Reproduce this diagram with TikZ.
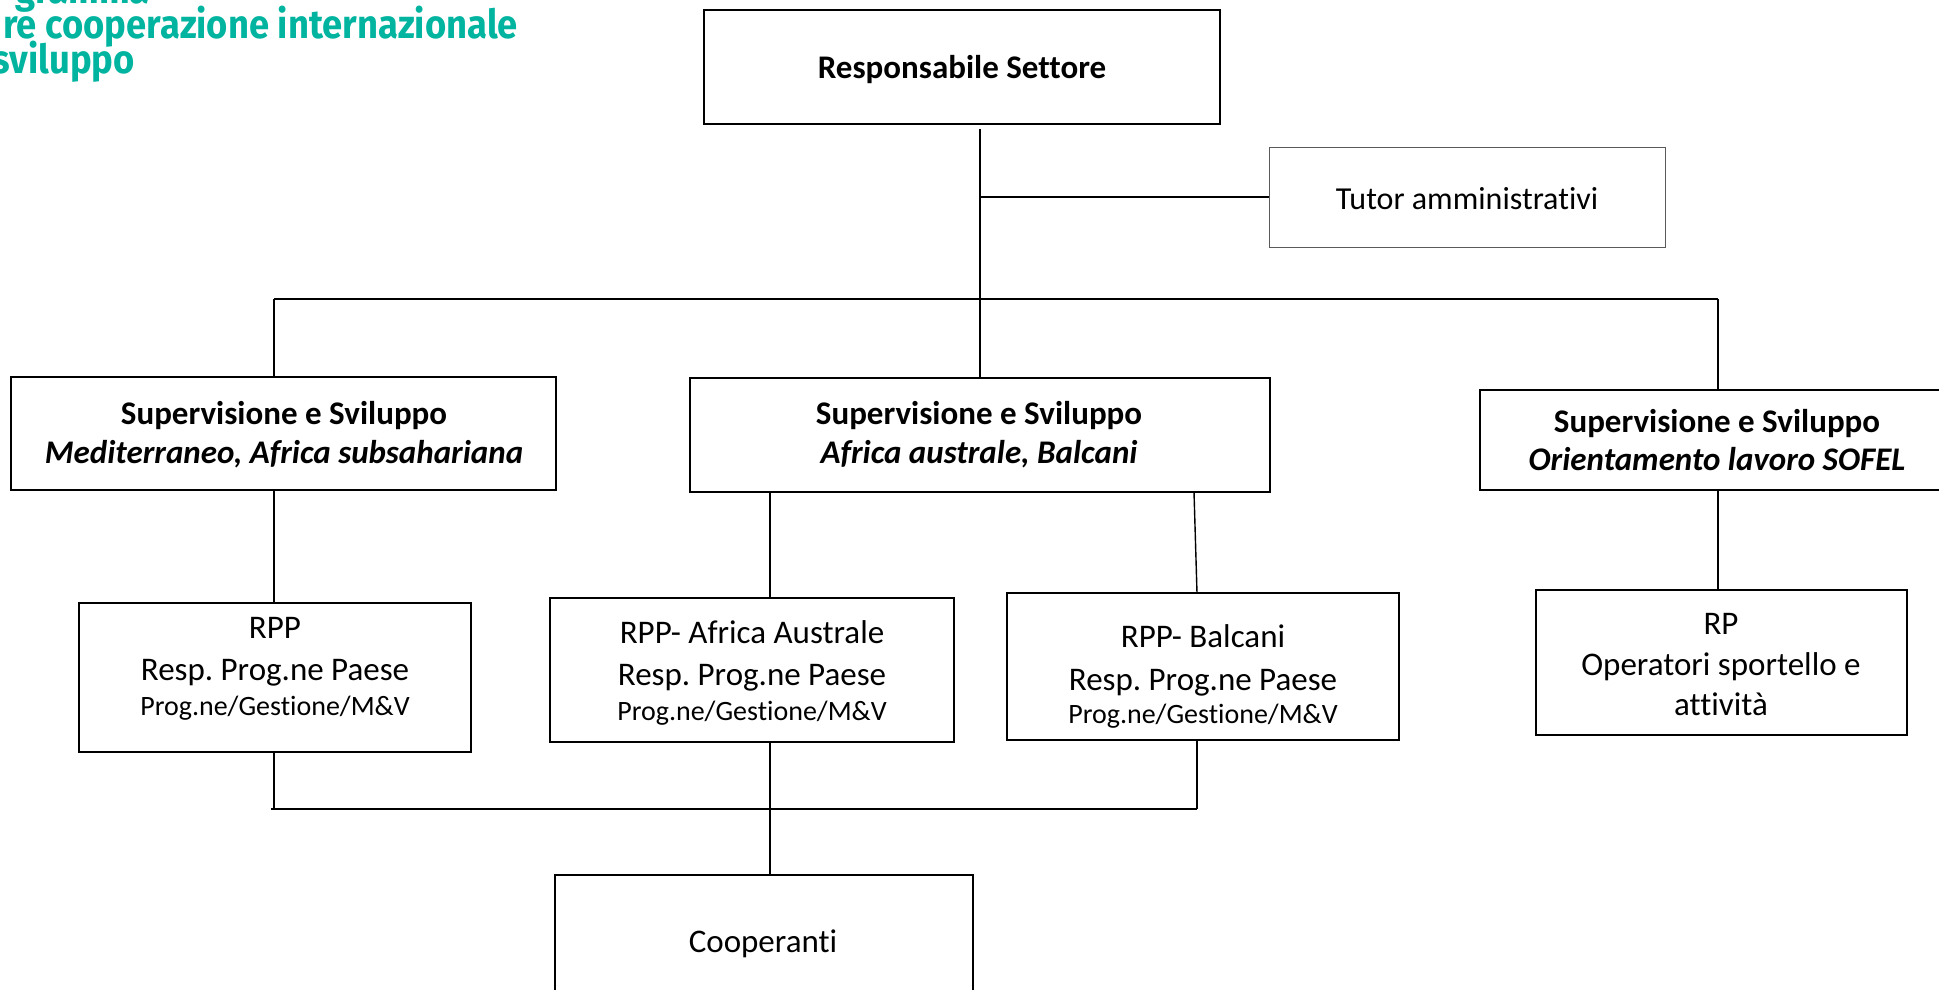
\documentclass[tikz,border=0pt]{standalone}
\usepackage{fontspec}
\setmainfont{Carlito}[Ligatures=NoCommon]
\newfontfamily\titlefont[FakeStretch=0.91]{Fira Sans}
\definecolor{titleteal}{RGB}{0,180,160}
\definecolor{thinframe}{RGB}{90,90,90}
\frenchspacing

\tikzset{
  box/.style={draw=black, line width=2.4pt, fill=none, inner sep=0pt},
  thinbox/.style={draw=thinframe, line width=1pt, inner sep=0pt},
  link/.style={draw=black, line width=1.4pt},
  txt/.style={inner sep=0pt, anchor=base, font=\fontsize{33}{40}\selectfont},
  txtb/.style={txt, font=\fontsize{33}{40}\selectfont\bfseries},
  txtbi/.style={txt, font=\fontsize{33}{40}\selectfont\bfseries\itshape},
  txts/.style={txt, font=\fontsize{28}{34}\selectfont},
  heading/.style={inner sep=0pt, anchor=base east, text=titleteal,
    text depth=0pt, font=\titlefont\fontsize{40}{36}\selectfont\bfseries}
}

\begin{document}
\begin{tikzpicture}[x=1pt, y=-1pt]
\useasboundingbox (0,0) rectangle (1939,989);
\clip (0,0) rectangle (1939,989);

% heading in the upper left corner
\node[heading] (h1) at (150,3)  {gramma};
\node[heading] (h2) at (518,38) {re cooperazione internazionale};
\node[heading] (h3) at (135,73) {sviluppo};

% frames
\node[box, minimum width=516pt, minimum height=114pt] (rs)   at (962,67)    {};
\node[thinbox, minimum width=396pt, minimum height=100pt] (tutor) at (1467,197) {};
\node[box, minimum width=545pt, minimum height=113pt] (s1)   at (283.5,433.5) {};
\node[box, minimum width=580pt, minimum height=114pt] (s2)   at (980,435)   {};
\node[box, minimum width=474pt, minimum height=100pt] (s3)   at (1717,440)  {};
\node[box, minimum width=392pt, minimum height=149pt] (rpp1) at (275,677.5) {};
\node[box, minimum width=404pt, minimum height=144pt] (rpp2) at (752,670)   {};
\node[box, minimum width=392pt, minimum height=147pt] (rpp3) at (1203,666.5) {};
\node[box, minimum width=371pt, minimum height=145pt] (rp)   at (1721.5,662.5) {};
\node[box, minimum width=418pt, minimum height=135pt] (coop) at (764,942.5) {};

% labels
\node[txtb] (rsT) at (962,78) {Responsabile Settore};
\node[txt, font=\fontsize{32}{40}\selectfont] (tutorT) at (1467,209) {Tutor amministrativi};

\node[txtb]  (s1a) at (284,424) {Supervisione e Sviluppo};
\node[txtbi] (s1b) at (284,463) {Mediterraneo, Africa subsahariana};
\node[txtb]  (s2a) at (979,424) {Supervisione e Sviluppo};
\node[txtbi] (s2b) at (979,463) {Africa australe, Balcani};
\node[txtb]  (s3a) at (1717,432) {Supervisione e Sviluppo};
\node[txtbi] (s3b) at (1717,470) {Orientamento lavoro SOFEL};

\node[txt]  (r1a) at (275,638) {RPP};
\node[txt]  (r1b) at (275,680) {Resp. Prog.ne Paese};
\node[txts] (r1c) at (275,715) {Prog.ne/Gestione/M\&V};
\node[txt]  (r2a) at (752,643) {RPP- Africa Australe};
\node[txt]  (r2b) at (752,685) {Resp. Prog.ne Paese};
\node[txts] (r2c) at (752,720) {Prog.ne/Gestione/M\&V};
\node[txt]  (r3a) at (1203,647) {RPP- Balcani};
\node[txt]  (r3b) at (1203,690) {Resp. Prog.ne Paese};
\node[txts] (r3c) at (1203,723) {Prog.ne/Gestione/M\&V};
\node[txt]  (rpa) at (1721,634) {RP};
\node[txt]  (rpb) at (1721,675) {Operatori sportello e};
\node[txt]  (rpc) at (1721,715) {attività};

\node[txt] (coopT) at (763,952) {Cooperanti};

% junction points of the tree
\coordinate (busL)  at (274,299);
\coordinate (busR)  at (1718,299);
\coordinate (d2)    at (770,492);
\coordinate (d3top) at (1194,492);
\coordinate (d3bot) at (1197,593);
\coordinate (lowL)  at (271,809);
\coordinate (lowR)  at (1197,809);

% connectors
\draw[link] ([yshift=-4pt]s2.north |- rs.south) -- (s2.north);
\draw[link] (s2.north |- tutor.west) -- (tutor.west);
\draw[link] (busL) -- (busR);
\draw[link] (busL) -- (busL |- s1.north);
\draw[link] (busR) -- (busR |- s3.north);
\draw[link] (busL |- s1.south) -- (busL |- rpp1.north);
\draw[link] (d2) -- (d2 |- rpp2.north);
\draw[link] (d3top) -- (d3bot);
\draw[link] (busR |- s3.south) -- (busR |- rp.north);
\draw[link] (busL |- rpp1.south) -- (busL |- lowL);
\draw[link] (lowR |- rpp3.south) -- (lowR);
\draw[link] (lowL) -- (lowR);
\draw[link] (d2 |- rpp2.south) -- (d2 |- coop.north);
\end{tikzpicture}
\end{document}
